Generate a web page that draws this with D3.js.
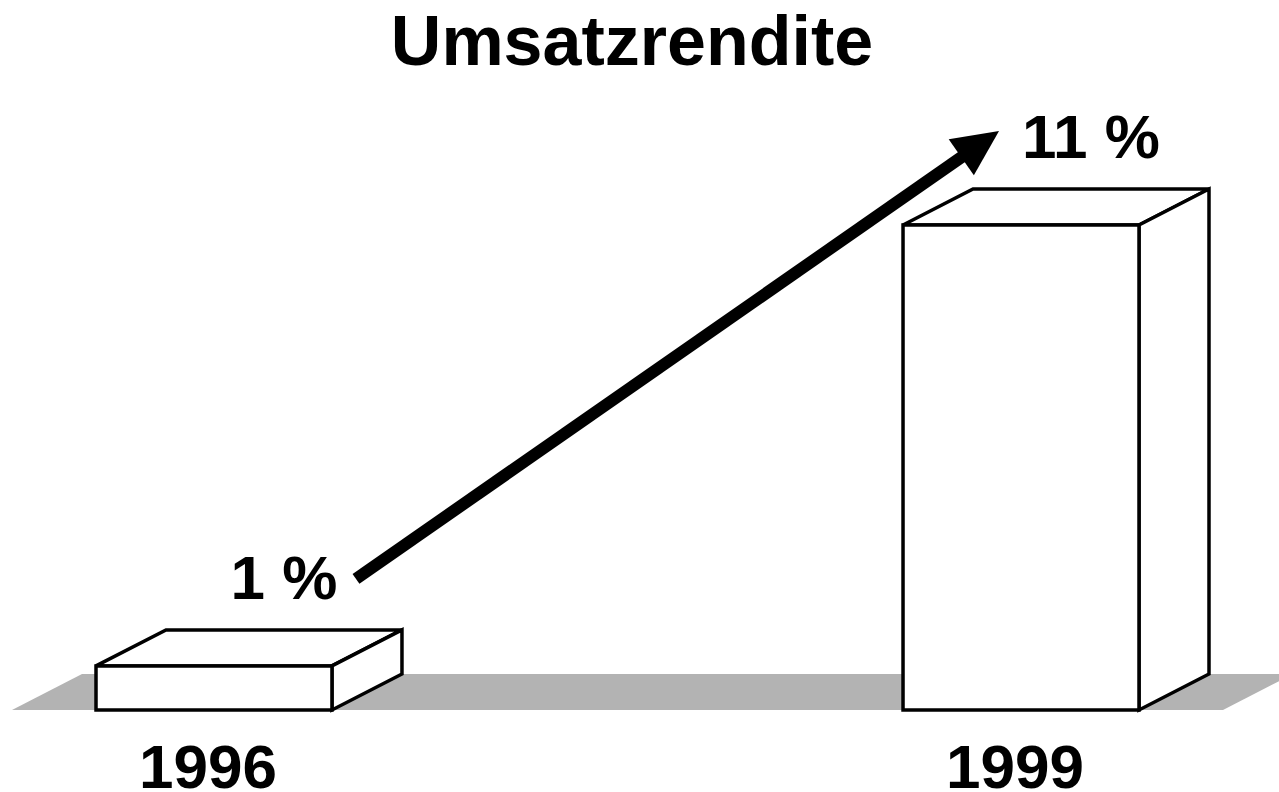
<!DOCTYPE html>
<html lang="de">
<head>
<meta charset="UTF-8">
<title>Umsatzrendite</title>
<script src="https://cdn.jsdelivr.net/npm/d3@7"></script>
<style>
  html, body { margin: 0; padding: 0; background: #fff; }
  svg { display: block; font-family: "Liberation Sans", Arial, sans-serif; font-weight: bold; }
</style>
</head>
<body>
<div id="chart"></div>
<script>
// data
var years = ['1996', '1999'];
var values = [1, 11];
var valueLabels = ['1 %', '11 %'];
var title = 'Umsatzrendite';

var w = 1279, h = 792;
var depth = {dx: 70, dy: -36};   // 3d offset of the boxes
var floorY = 710;

var svg = d3.select('#chart').append('svg')
    .attr('width', w)
    .attr('height', h);

var x = d3.scaleBand()
    .domain(years)
    .range([96, 1139])
    .paddingInner(0.7076)
    .paddingOuter(0);

var y = d3.scaleLinear()
    .domain([0, 11])
    .range([floorY, 225]);

var bw = x.bandwidth();

// title
svg.append('text')
    .attr('x', 632)
    .attr('y', 65)
    .attr('text-anchor', 'middle')
    .attr('font-size', 70)
    .text(title);

// grey floor (shadow plane)
var floor = [[12, floorY], [1223, floorY], [1223 + depth.dx, floorY + depth.dy], [12 + depth.dx, floorY + depth.dy]];
svg.append('polygon')
    .attr('points', floor.map(function(p){ return p.join(','); }).join(' '))
    .attr('fill', '#b3b3b3');

var data = years.map(function(yr, i){ return {year: yr, value: values[i], label: valueLabels[i]}; });

// 3d boxes
var boxes = svg.selectAll('g.box')
    .data(data)
    .enter()
    .append('g')
    .attr('class', 'box');

boxes.each(function(d){
    var g = d3.select(this);
    var x0 = x(d.year), x1 = x0 + bw;
    var yt = y(d.value), yb = y(0);
    var dx = depth.dx, dy = depth.dy;
    var faces = [
        // top
        [[x0, yt], [x0 + dx, yt + dy], [x1 + dx, yt + dy], [x1, yt]],
        // right side
        [[x1, yt], [x1 + dx, yt + dy], [x1 + dx, yb + dy], [x1, yb]],
        // front
        [[x0, yt], [x1, yt], [x1, yb], [x0, yb]]
    ];
    g.selectAll('polygon')
        .data(faces)
        .enter()
        .append('polygon')
        .attr('points', function(f){ return f.map(function(p){ return p.join(','); }).join(' '); })
        .attr('fill', '#fff')
        .attr('stroke', '#000')
        .attr('stroke-width', 3.5)
        .attr('stroke-linejoin', 'miter');
});

// value labels above the boxes
svg.selectAll('text.value')
    .data(data)
    .enter()
    .append('text')
    .attr('class', 'value')
    .attr('x', function(d){ return x(d.year) + bw / 2 + depth.dx; })
    .attr('y', function(d){ return y(d.value) + depth.dy - 31; })
    .attr('text-anchor', 'middle')
    .attr('font-size', 62)
    .text(function(d){ return d.label; });

// year labels
svg.selectAll('text.year')
    .data(data)
    .enter()
    .append('text')
    .attr('class', 'year')
    .attr('x', function(d){ return x(d.year) + bw / 2 - 6; })
    .attr('y', 788)
    .attr('text-anchor', 'middle')
    .attr('font-size', 62)
    .text(function(d){ return d.year; });

// growth arrow
var a = data[0], b = data[1];
var start = [x(a.year) + bw + depth.dx - 46, y(a.value) + depth.dy - 51];
var tip = [x(b.year) + depth.dx - 2 + 28, y(b.value) + depth.dy - 58];
var vx = tip[0] - start[0], vy = tip[1] - start[1];
var len = Math.sqrt(vx * vx + vy * vy);
var ux = vx / len, uy = vy / len;
var headLen = 46, headHalf = 22;
var base = [tip[0] - ux * headLen, tip[1] - uy * headLen];

svg.append('line')
    .attr('x1', start[0])
    .attr('y1', start[1])
    .attr('x2', base[0] + ux * 4)
    .attr('y2', base[1] + uy * 4)
    .attr('stroke', '#000')
    .attr('stroke-width', 12);

svg.append('polygon')
    .attr('points', [
        tip,
        [base[0] - uy * headHalf, base[1] + ux * headHalf],
        [base[0] + uy * headHalf, base[1] - ux * headHalf]
    ].map(function(p){ return p.join(','); }).join(' '))
    .attr('fill', '#000');
</script>
</body>
</html>
